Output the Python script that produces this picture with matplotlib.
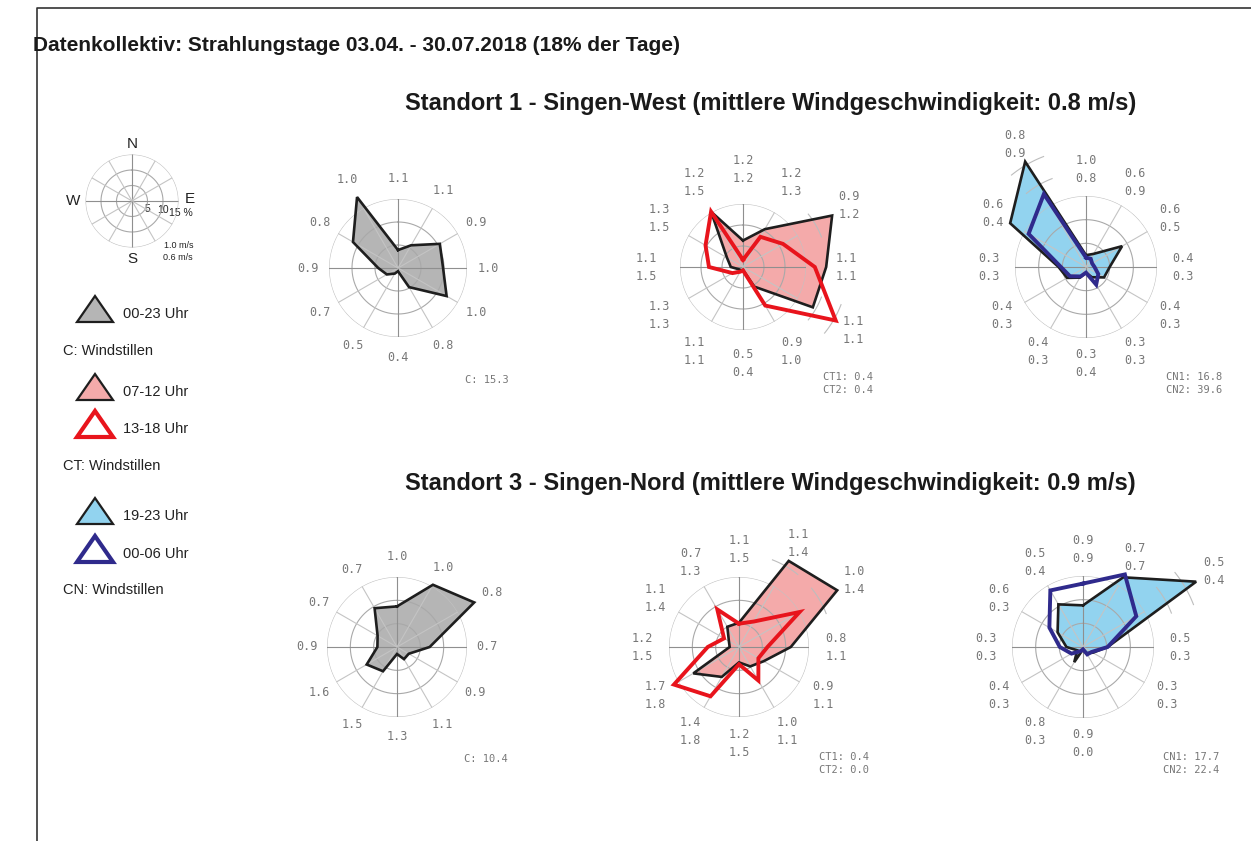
import numpy as np
import matplotlib
matplotlib.use("Agg")
import matplotlib.pyplot as plt
from matplotlib.patches import Polygon

W, H = 1251, 841

# Sektoren (Grad, im Uhrzeigersinn ab Nord)
directions = [0, 30, 60, 90, 120, 150, 180, 210, 240, 270, 300, 330]

# Standort 1 - Singen-West: Haeufigkeiten in %
st1_all = [3.9, 5.7, 10.5, 9.8, 12.2, 4.8, 0.7, 1.4, 2.8, 4.3, 11.3, 17.8]
st1_all_v = ["1.1", "1.1", "0.9", "1.0", "1.0", "0.8", "0.4", "0.5", "0.7", "0.9", "0.8", "1.0"]
st1_all_calm = "15.3"

st1_t1 = [6.3, 10.4, 24.5, 19.8, 19.2, 5.4, 0.7, 0.9, 1.1, 2.9, 4.4, 15.2]
st1_t2 = [1.7, 8.3, 11.0, 17.1, 25.5, 10.6, 0.8, 1.3, 2.9, 8.1, 10.3, 15.2]
st1_t1_v = ["1.2", "1.2", "0.9", "1.1", "1.1", "0.9", "0.5", "1.1", "1.3", "1.1", "1.3", "1.2"]
st1_t2_v = ["1.2", "1.3", "1.2", "1.1", "1.1", "1.0", "0.4", "1.1", "1.3", "1.5", "1.5", "1.5"]
st1_t_calm = ["0.4", "0.4"]

st1_n1 = [2.5, 3.2, 8.8, 5.0, 4.4, 2.5, 1.2, 2.6, 4.6, 5.8, 18.5, 25.7]
st1_n2 = [2.0, 2.0, 1.5, 1.8, 3.0, 4.3, 1.2, 2.3, 3.9, 5.3, 14.0, 17.8]
st1_n1_v = ["1.0", "0.6", "0.6", "0.4", "0.4", "0.3", "0.3", "0.4", "0.4", "0.3", "0.6", "0.8"]
st1_n2_v = ["0.8", "0.9", "0.5", "0.3", "0.3", "0.3", "0.4", "0.3", "0.3", "0.3", "0.4", "0.9"]
st1_n_calm = ["16.8", "39.6"]

# Standort 3 - Singen-Nord
st3_all = [8.7, 15.4, 19.1, 7.0, 2.9, 3.0, 1.5, 6.0, 7.5, 4.2, 4.8, 9.6]
st3_all_v = ["1.0", "1.0", "0.8", "0.7", "0.9", "1.1", "1.3", "1.5", "1.6", "0.9", "0.7", "0.7"]
st3_all_calm = "10.4"

st3_t1 = [5.2, 21.3, 24.3, 11.1, 6.1, 4.8, 3.3, 7.4, 11.3, 2.0, 2.5, 5.0]
st3_t2 = [5.0, 6.3, 15.0, 6.1, 4.8, 8.3, 3.7, 12.2, 16.1, 6.7, 3.7, 9.3]
st3_t1_v = ["1.1", "1.1", "1.0", "0.8", "0.9", "1.0", "1.2", "1.4", "1.7", "1.2", "1.1", "0.7"]
st3_t2_v = ["1.5", "1.4", "1.4", "1.1", "1.1", "1.1", "1.5", "1.8", "1.8", "1.5", "1.4", "1.3"]
st3_t_calm = ["0.4", "0.0"]

st3_n1 = [8.8, 17.0, 27.6, 5.2, 2.4, 1.5, 0.5, 3.7, 1.4, 3.5, 6.2, 10.4]
st3_n2 = [13.4, 17.7, 13.0, 5.2, 2.1, 1.8, 0.5, 1.0, 2.8, 4.9, 8.2, 13.8]
st3_n1_v = ["0.9", "0.7", "0.5", "0.5", "0.3", "", "0.9", "0.8", "0.4", "0.3", "0.6", "0.5"]
st3_n2_v = ["0.9", "0.7", "0.4", "0.3", "0.3", "", "0.0", "0.3", "0.3", "0.3", "0.3", "0.4"]
st3_n_calm = ["17.7", "22.4"]

GREY = "#b5b5b5"
PINK = "#f4aaaa"
RED = "#e8141c"
LBLUE = "#92d3ef"
DBLUE = "#2f2a8c"
EDGE = "#1e1e1e"
LABEL = "#777777"

SANS = ["Liberation Sans", "DejaVu Sans"]
MONO = ["DejaVu Sans Mono"]

fig = plt.figure(figsize=(W / 100, H / 100), dpi=100)
bg = fig.add_axes([0, 0, 1, 1])
bg.set_xlim(0, W)
bg.set_ylim(H, 0)
bg.set_axis_off()

# Rahmen
bg.plot([37, 37, W], [H, 8, 8], color="#333333", lw=1.2)

bg.text(33, 45, "Datenkollektiv: Strahlungstage 03.04. - 30.07.2018 (18% der Tage)",
        ha="left", va="center", fontsize=15, fontweight="bold", family=SANS, color="#1a1a1a")
bg.text(771, 103, "Standort 1 - Singen-West (mittlere Windgeschwindigkeit: 0.8 m/s)",
        ha="center", va="center", fontsize=17, fontweight="bold", family=SANS, color="#1a1a1a")
bg.text(770, 483, "Standort 3 - Singen-Nord (mittlere Windgeschwindigkeit: 0.9 m/s)",
        ha="center", va="center", fontsize=17, fontweight="bold", family=SANS, color="#1a1a1a")


def polar_axes(cx, cy, radius):
    ax = fig.add_axes([(cx - radius) / W, 1 - (cy + radius) / H, 2 * radius / W, 2 * radius / H],
                      projection="polar")
    ax.set_theta_zero_location("N")
    ax.set_theta_direction(-1)
    ax.set_ylim(0, 15)
    ax.set_axis_off()
    circle = np.linspace(0, 2 * np.pi, 361)
    for r, c in [(5, "#a9a9a9"), (10, "#a9a9a9"), (15, "#c2c2c2")]:
        ax.plot(circle, np.full_like(circle, r), color=c, lw=0.8, zorder=2)
    for d in directions:
        c = "#8f8f8f" if d % 90 == 0 else "#c4c4c4"
        ax.plot([np.radians(d)] * 2, [0, 15], color=c, lw=0.8, zorder=2)
    return ax


def draw_rose(cx, cy, radius, filled, outline, labels, calm):
    ax = polar_axes(cx, cy, radius)
    px = radius / 15.0
    t = np.radians(directions + [directions[0]])

    freq, face = filled
    r = np.array(freq + [freq[0]])
    ax.fill(t, r, facecolor=face, edgecolor="none", zorder=1, clip_on=False)
    ax.plot(t, r, color=EDGE, lw=1.9, zorder=3, clip_on=False, solid_joinstyle="miter")
    peak = np.array(freq)
    if outline is not None:
        ofreq, ocol = outline
        ro = np.array(ofreq + [ofreq[0]])
        ax.plot(t, ro, color=ocol, lw=2.8, zorder=4, clip_on=False, solid_joinstyle="miter")
        peak = np.maximum(peak, ofreq)

    # kurze Kreisboegen ausserhalb des 15%-Rings
    for d, p in zip(directions, peak):
        ring = 20
        while ring < p:
            arc = np.radians(np.linspace(d - 9, d + 9, 20))
            ax.plot(arc, np.full_like(arc, ring), color="#bdbdbd", lw=0.8, zorder=2, clip_on=False)
            ring += 5

    for d, p, txt in zip(directions, peak, labels):
        if not txt.strip():
            continue
        base = (97 if "\n" in txt else 90) / px
        rl = max(base, p + 20 / px)
        ax.text(np.radians(d), rl, txt, ha="center", va="center", fontsize=8.5,
                family=MONO, color=LABEL, linespacing=1.5)

    if len(calm) == 1:
        bg.text(cx + 111, cy + 112, "C: " + calm[0], ha="right", va="center",
                fontsize=7.5, family=MONO, color=LABEL)
    else:
        key = "CT" if outline is not None and outline[1] == RED else "CN"
        for i, val in enumerate(calm):
            bg.text(cx + 80, cy + 110 + 13 * i, f"{key}{i + 1}: {val}", ha="left", va="center",
                    fontsize=7.5, family=MONO, color=LABEL)


def pair(a, b):
    return [f"{x}\n{y}" if x else "" for x, y in zip(a, b)]


draw_rose(398, 268, 69, (st1_all, GREY), None, st1_all_v, [st1_all_calm])
draw_rose(743, 267, 63, (st1_t1, PINK), (st1_t2, RED), pair(st1_t1_v, st1_t2_v), st1_t_calm)
draw_rose(1086, 267, 71, (st1_n1, LBLUE), (st1_n2, DBLUE), pair(st1_n1_v, st1_n2_v), st1_n_calm)
draw_rose(397, 647, 70, (st3_all, GREY), None, st3_all_v, [st3_all_calm])
draw_rose(739, 647, 70, (st3_t1, PINK), (st3_t2, RED), pair(st3_t1_v, st3_t2_v), st3_t_calm)
draw_rose(1083, 647, 71, (st3_n1, LBLUE), (st3_n2, DBLUE), pair(st3_n1_v, st3_n2_v), st3_n_calm)

# Legende: Musterrose
polar_axes(132, 201, 46.5)
for txt, x, y in [("N", 132, 144), ("S", 132, 259), ("W", 73, 201), ("E", 190, 199)]:
    bg.text(x, y, txt, ha="center", va="center", fontsize=11, family=SANS, color="#222222")
for txt, x, y in [("5", 147, 209), ("10", 163, 210), ("15 %", 181, 213)]:
    bg.text(x, y, txt, ha="center", va="center", fontsize=7.5, family=SANS, color="#222222")
bg.text(193, 245, "1.0 m/s", ha="right", va="center", fontsize=6.5, family=SANS, color="#222222")
bg.text(193, 257, "0.6 m/s", ha="right", va="center", fontsize=6.5, family=SANS, color="#222222")


def triangle(x, y, face, edge, lw):
    tri = Polygon([[x - 18, y + 12], [x + 18, y + 12], [x, y - 14]], closed=True,
                  facecolor=face, edgecolor=edge, lw=lw, joinstyle="miter")
    bg.add_patch(tri)


legend_items = [
    (310, GREY, EDGE, 1.6, "00-23 Uhr"),
    (388, PINK, EDGE, 1.6, "07-12 Uhr"),
    (425, "white", RED, 3.0, "13-18 Uhr"),
    (512, LBLUE, EDGE, 1.6, "19-23 Uhr"),
    (550, "white", DBLUE, 3.0, "00-06 Uhr"),
]
for y, face, edge, lw, txt in legend_items:
    triangle(95, y, face, edge, lw)
    bg.text(123, y + 4, txt, ha="left", va="center", fontsize=10.5, family=SANS, color="#222222")

for txt, y in [("C: Windstillen", 351), ("CT: Windstillen", 466), ("CN: Windstillen", 590)]:
    bg.text(63, y, txt, ha="left", va="center", fontsize=10.5, family=SANS, color="#222222")

fig.savefig("out.png", dpi=100)
